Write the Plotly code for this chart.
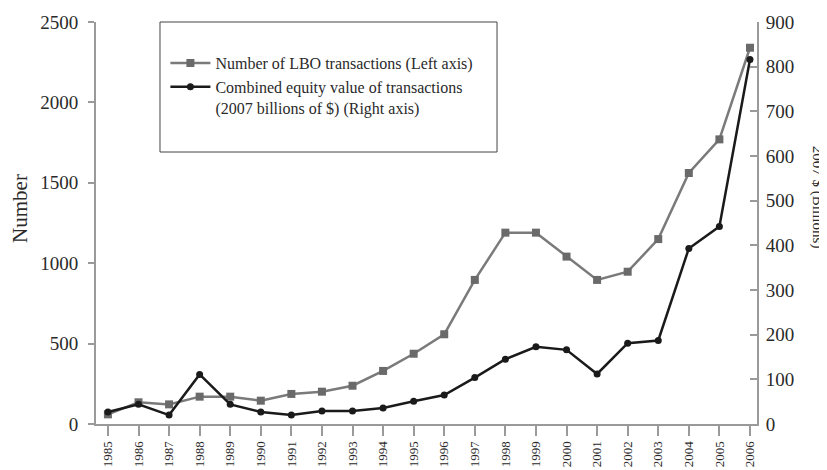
import plotly.graph_objects as go

years = list(range(1985, 2007))
num_transactions = [60, 135, 122, 170, 170, 145, 187, 201, 238, 330, 437, 558,
                    896, 1190, 1190, 1041, 896, 947, 1150, 1561, 1770, 2340]
equity_value = [27, 44, 20, 111, 44, 27, 20, 29, 29, 36, 51, 65,
                104, 145, 173, 166, 112, 181, 187, 393, 442, 816]
left_ticks = [0, 500, 1000, 1500, 2000, 2500]
right_ticks = [0, 100, 200, 300, 400, 500, 600, 700, 800, 900]
year_labels = [str(y) for y in years]

FONT = "Liberation Serif"
AXC = "#9a9a9a"
TXT = "#2a2a2a"

fig = go.Figure()
fig.add_trace(go.Scatter(
    x=years, y=num_transactions, name="Number of LBO transactions (Left axis)",
    mode="lines+markers", line=dict(color="#7a7a7a", width=2.5),
    marker=dict(symbol="square", size=8, color="#6a6a6a"), yaxis="y"))
fig.add_trace(go.Scatter(
    x=years, y=equity_value,
    name="Combined equity value of transactions<br>(2007 billions of $) (Right axis)",
    mode="lines+markers", line=dict(color="#1a1a1a", width=2.5),
    marker=dict(symbol="circle", size=7, color="#1a1a1a"), yaxis="y2"))

# the page adds an 8px body margin, so the figure is 8px smaller than the window
fig.update_layout(
    width=819, height=462,
    margin=dict(l=88, r=70, t=14, b=46, autoexpand=False),
    paper_bgcolor="white", plot_bgcolor="white",
    font=dict(family=FONT, color=TXT, size=16),
    showlegend=True,
    legend=dict(x=0.105, y=0.94, xanchor="left", yanchor="top",
                bgcolor="rgba(0,0,0,0)", borderwidth=0,
                font=dict(family=FONT, size=16, color=TXT),
                valign="top", itemwidth=40, tracegroupgap=0),
    xaxis=dict(range=[1984.61, 2006.23], tickvals=years, ticktext=year_labels,
               tickangle=-90, tickfont=dict(size=13, family=FONT, color=TXT),
               showline=True, linecolor=AXC, linewidth=2, automargin=False,
               ticks="outside", ticklen=10, tickwidth=2, tickcolor=AXC,
               showgrid=False, zeroline=False),
    yaxis=dict(range=[0, 2500], tickvals=left_ticks,
               tickfont=dict(size=19, family=FONT, color=TXT),
               showline=True, linecolor=AXC, linewidth=2, automargin=False,
               ticks="outside", ticklen=6, tickwidth=2, tickcolor=AXC,
               ticklabelstandoff=6,
               showgrid=False, zeroline=False),
    yaxis2=dict(range=[0, 900], tickvals=right_ticks, overlaying="y", side="right",
                tickfont=dict(size=19, family=FONT, color=TXT),
                showline=True, linecolor=AXC, linewidth=2, automargin=False,
                ticks="inside", ticklen=7, tickwidth=2, tickcolor=AXC,
                ticklabelstandoff=3,
                showgrid=False, zeroline=False),
    shapes=[dict(type="rect", xref="paper", yref="paper",
                 x0=0.0968, x1=0.6067, y0=0.6766, y1=1.0,
                 line=dict(color="#444444", width=1), fillcolor="rgba(0,0,0,0)")],
    annotations=[
        dict(text="Number", xref="paper", yref="paper",
             x=0, xshift=-76, y=0.535, textangle=-90, showarrow=False,
             font=dict(size=21, family=FONT, color=TXT),
             xanchor="center", yanchor="middle"),
        dict(text="2007 $ (Billions)", xref="paper", yref="paper",
             x=1.0, xshift=60, y=0.565, textangle=90, showarrow=False,
             font=dict(size=15, family=FONT, color=TXT),
             xanchor="center", yanchor="middle")],
)

fig.write_html("out.html")
